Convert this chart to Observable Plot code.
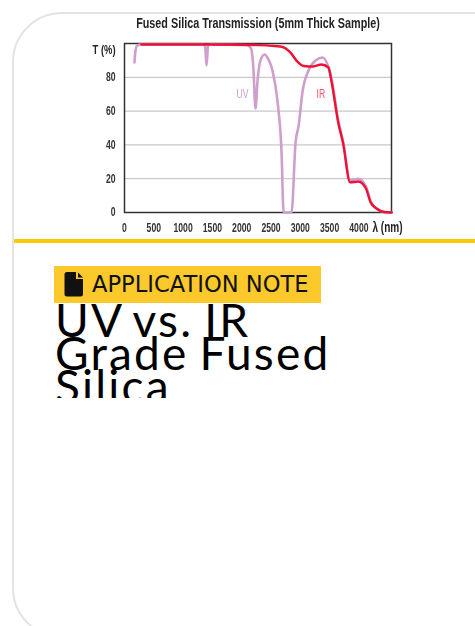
<!DOCTYPE html>
<html><head><meta charset="utf-8">
<script src="https://cdn.jsdelivr.net/npm/d3@7"></script>
<script src="https://cdn.jsdelivr.net/npm/@observablehq/plot@0.6"></script>
<style>
html,body{margin:0;padding:0;background:#fff;width:475px;height:626px;overflow:hidden;position:relative}
#card{position:absolute;left:12px;top:12px;width:520px;height:626px;border:2px solid #e3e3e3;border-radius:50px;box-sizing:border-box}
#chart{position:absolute;left:0;top:0;filter:blur(.35px)}
#rule{position:absolute;left:14px;top:239px;width:461px;height:4px;background:#fdc90a}
#badge{position:absolute;left:54px;top:266px;width:267px;height:37px;background:#fbc92b;font:22.6px/37px "DejaVu Sans",sans-serif;color:#111;white-space:nowrap}
#badge svg{position:absolute;left:10px;top:6px}
#badge span{position:absolute;left:38px;top:0}
#head{position:absolute;left:55px;top:298px;width:330px;height:100px;box-sizing:border-box;padding-top:5px;overflow:hidden;font:400 46px/33px Lato,sans-serif;letter-spacing:2.2px;word-spacing:-3px;color:#000}
</style></head><body>
<div id="card"></div>
<div id="chart"></div>
<div id="rule"></div>
<div id="badge"><svg width="20" height="25" viewBox="0 0 20 25"><path fill="#111" d="M3 0H12V7H19V22a2.500 2.500 0 0 1-2.500 2.500H3A2.500 2.500 0 0 1 .5 22V2.500A2.500 2.500 0 0 1 3 0ZM14 .5 19 5.500H14Z"/></svg><span>APPLICATION NOTE</span></div>
<div id="head">UV vs. IR<br>Grade Fused<br>Silica</div>
<script>
const chartTitle = "Fused Silica Transmission (5mm Thick Sample)";
const xTicks = [0, 500, 1000, 1500, 2000, 2500, 3000, 3500, 4000];
const yTicks = [0, 20, 40, 60, 80];
const uvLambda = [170, 185, 215, 290, 1340, 1375, 1400, 1425, 1460, 2090, 2160, 2200, 2235, 2270, 2320, 2390, 2450, 2525, 2610, 2680, 2715, 2850, 2920, 2970, 3040, 3140, 3260, 3380, 3480, 3530, 3650, 3730, 3850, 3990, 4120, 4200, 4300, 4430, 4560];
const uvT = [88.8, 95, 98.8, 99.4, 99.4, 98.5, 87, 98.5, 99.4, 99, 97, 85, 61.5, 78, 90, 93.5, 91, 84, 66, 35.5, 0, 0, 42, 51, 72, 84, 90, 91.7, 86, 79.5, 54, 42, 19, 20, 15.5, 6.5, 2.4, 0.3, 0];
const irLambda = [290, 1000, 2000, 2660, 2830, 2950, 3060, 3220, 3360, 3480, 3530, 3650, 3730, 3850, 3990, 4120, 4200, 4300, 4430, 4560];
const irT = [99.4, 99.4, 99.3, 98.2, 94.7, 89.3, 86.7, 86.4, 87.6, 85.8, 78, 52.7, 41, 17.8, 18.3, 14.2, 6, 2.4, 0.3, 0];
const curveLabels = ["UV", "IR"];
const labelLambda = [2013, 3350];
const labelT = [70, 70];
const uvColor = "#cf9fcc", irColor = "#ee1136";

const font = '"Liberation Sans",sans-serif';
const zip = (xs, ys) => xs.map((x, i) => ({x, y: ys[i]}));
const plot = Plot.plot({
  width: 475, height: 245,
  marginLeft: 124, marginRight: 84, marginTop: 43, marginBottom: 33,
  x: {domain: [0, 4556], axis: null},
  y: {domain: [0, 100], axis: null},
  style: {fontFamily: font, background: "transparent", overflow: "visible"},
  marks: [
    Plot.ruleY(yTicks.filter(d => d > 0), {stroke: "#c9c9c9", strokeWidth: 1.2}),
    Plot.frame({stroke: "#333", strokeWidth: 1.5}),
    Plot.line(zip(uvLambda, uvT), {x: "x", y: "y", stroke: uvColor, strokeWidth: 2.6, curve: "monotone-x"}),
    Plot.line(zip(irLambda, irT), {x: "x", y: "y", stroke: irColor, strokeWidth: 2.4, curve: "monotone-x"}),
    Plot.text(yTicks, {x: () => 0, y: d => d, text: d => String(d), textAnchor: "end", dx: -9, fontSize: 12, fontWeight: 700, fill: "#333"}),
    Plot.text(xTicks, {x: d => d, y: () => 0, text: d => String(d), dy: 16, fontSize: 12, fontWeight: 700, fill: "#333"}),
    Plot.text(curveLabels, {x: (d, i) => labelLambda[i], y: (d, i) => labelT[i], text: d => d, fontSize: 12, fill: (d, i) => i ? "#f0556e" : uvColor}),
    Plot.text(["T (%)"], {frameAnchor: "top-left", text: d => d, textAnchor: "end", dx: -9, dy: 1, fontSize: 13, fontWeight: 700, fill: "#222"}),
    Plot.text(["λ (nm)"], {frameAnchor: "bottom-right", text: d => d, textAnchor: "middle", dx: -4, dy: 19, fontSize: 14, fontWeight: 700, fill: "#222"}),
    Plot.text([chartTitle], {frameAnchor: "top", text: d => d, dy: -26, fontSize: 15, fontWeight: 700, fill: "#222"})
  ]
});
document.getElementById("chart").appendChild(plot);
// the original chart is set in a condensed face: narrow every label's glyphs
plot.querySelectorAll("text").forEach(t => {
  t.setAttribute("textLength", (t.getComputedTextLength() * 0.72).toFixed(1));
  t.setAttribute("lengthAdjust", "spacingAndGlyphs");
});
</script>
</body></html>
